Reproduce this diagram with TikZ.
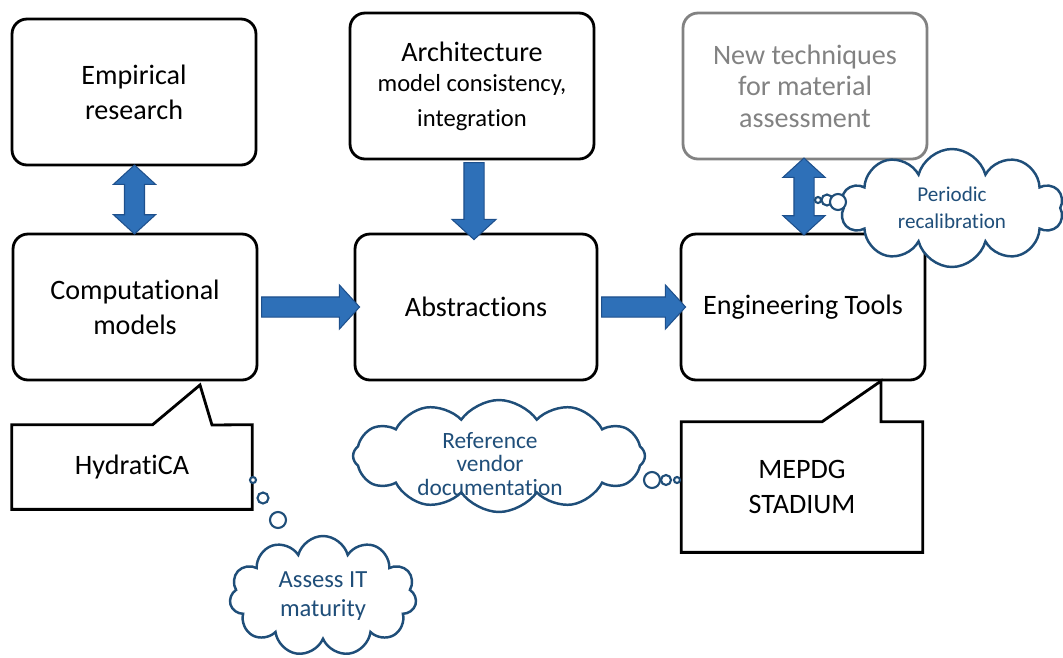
\documentclass[tikz,border=0pt]{standalone}
\usepackage{fontspec}
\setmainfont{Carlito}[Ligatures=NoCommon]
\usetikzlibrary{shapes.arrows, shapes.symbols, positioning}

\definecolor{arrowblue}{RGB}{46,112,184}
\definecolor{arrowedge}{RGB}{30,80,140}
\definecolor{thinkblue}{RGB}{31,78,121}
\definecolor{faded}{RGB}{130,130,130}

\tikzset{
box/.style={draw, rounded corners=0.3cm, line width=1.6pt, minimum width=4.88cm, minimum height=2.92cm, align=center, font=\fontsize{16}{20}\selectfont}, % the rounded boxes
oldbox/.style={box, draw=faded, text=faded}, % greyed out box
talk/.style={align=center, inner sep=0pt, font=\fontsize{16}{20}\selectfont}, % text of a speech callout
talkline/.style={draw, line width=1.6pt, fill=white, line join=miter},
think/.style={cloud, cloud puffs=11, draw=thinkblue, line width=1.4pt, fill=white, text=thinkblue, align=center, inner sep=0pt},
bubble/.style={draw=thinkblue, line width=1.2pt, fill=white},
blockarrow/.style={draw=arrowedge, fill=arrowblue, line width=0.6pt, inner xsep=0pt, inner ysep=0.19cm},
rightarrow/.style={blockarrow, single arrow, single arrow head extend=0.24cm, single arrow tip angle=95},
bothways/.style={blockarrow, double arrow, double arrow head extend=0.22cm, double arrow tip angle=95},
}

\begin{document}
\begin{tikzpicture}[x=0.02cm, y=-0.02cm]
  \useasboundingbox (0,0) rectangle (1063,657);

  % top row
  \node[box] (emp) at (134,92) {Empirical\\research};
  \node[box] (arch) at (472,86) {Architecture\\[-3pt]\fontsize{14}{18}\selectfont model consistency,\\\fontsize{14}{18}\selectfont integration};
  \node[oldbox] (newtech) at (805,86) {New techniques\\[-2pt]for material\\[-2pt]assessment};

  % middle row
  \node[box] (comp) at (135,307) {Computational\\models};
  \node[box, minimum width=4.84cm] (abs) at (476,307) {Abstractions};
  \node[box] (eng) at (803,307) {Engineering Tools};

  % block arrows between the boxes
  \path (emp) -- node[bothways, rotate=90, minimum height=1.38cm] {} (comp);
  \path (arch) -- node[rightarrow, rotate=-90, minimum height=1.54cm] {} (abs);
  \path (newtech) -- node[bothways, rotate=90, minimum height=1.54cm] {} (eng);
  \path (comp) -- node[rightarrow, minimum height=1.96cm] {} (abs);
  \path (abs) -- node[rightarrow, minimum height=1.68cm] {} (eng);

  % speech callouts
  \coordinate (hydtip) at (200,385);
  \node[talk, minimum width=4.8cm, minimum height=1.68cm] (hyd) at (132,467) {};
  \draw[talkline] (hyd.north west) -- ++(141,0) -- (hydtip) -- ++(12,40)
    -- (hyd.north east) -- (hyd.south east) -- (hyd.south west) -- cycle;
  \node[talk] (hydtext) at (hyd) {HydratiCA};

  \coordinate (meptip) at (881,381);
  \node[talk, minimum width=4.82cm, minimum height=2.6cm] (mep) at (802,487) {};
  \draw[talkline] (mep.north west) -- ++(141,0) -- (meptip) -- (meptip |- mep.north)
    -- (mep.north east) -- (mep.south east) -- (mep.south west) -- cycle;
  \node[talk] (meptext) at (mep) {MEPDG\\STADIUM};

  % thought clouds
  \node[think, aspect=1.6, minimum width=3.74cm, minimum height=2.4cm,
    font=\fontsize{14}{16.5}\selectfont] (assess) at (323,596) {Assess IT\\maturity};
  \node[think, cloud puffs=12, cloud puff arc=110, aspect=2.6, minimum width=5.84cm, minimum height=2.24cm] (vendor) at (499,456) {};
  \node[text=thinkblue, align=center, inner sep=0pt,
    font=\fontsize{13.3}{13.6}\selectfont] (vendortext) at (490,464) {Reference\\vendor\\documentation};
  \node[think, cloud puffs=10, aspect=1.9, minimum width=4.45cm, minimum height=2.36cm,
    font=\fontsize{12}{15.4}\selectfont] (recal) at (952,208) {Periodic\\recalibration};

  % little bubbles leading to the clouds
  \foreach \x/\y/\r in {253/480/0.06, 263/498/0.11, 278/520/0.16,
                        677/480/0.06, 666/480/0.1, 652/480/0.16,
                        818/200/0.06, 827/200/0.11, 838/202/0.16}
    \draw[bubble] (\x,\y) circle (\r cm);
\end{tikzpicture}
\end{document}
